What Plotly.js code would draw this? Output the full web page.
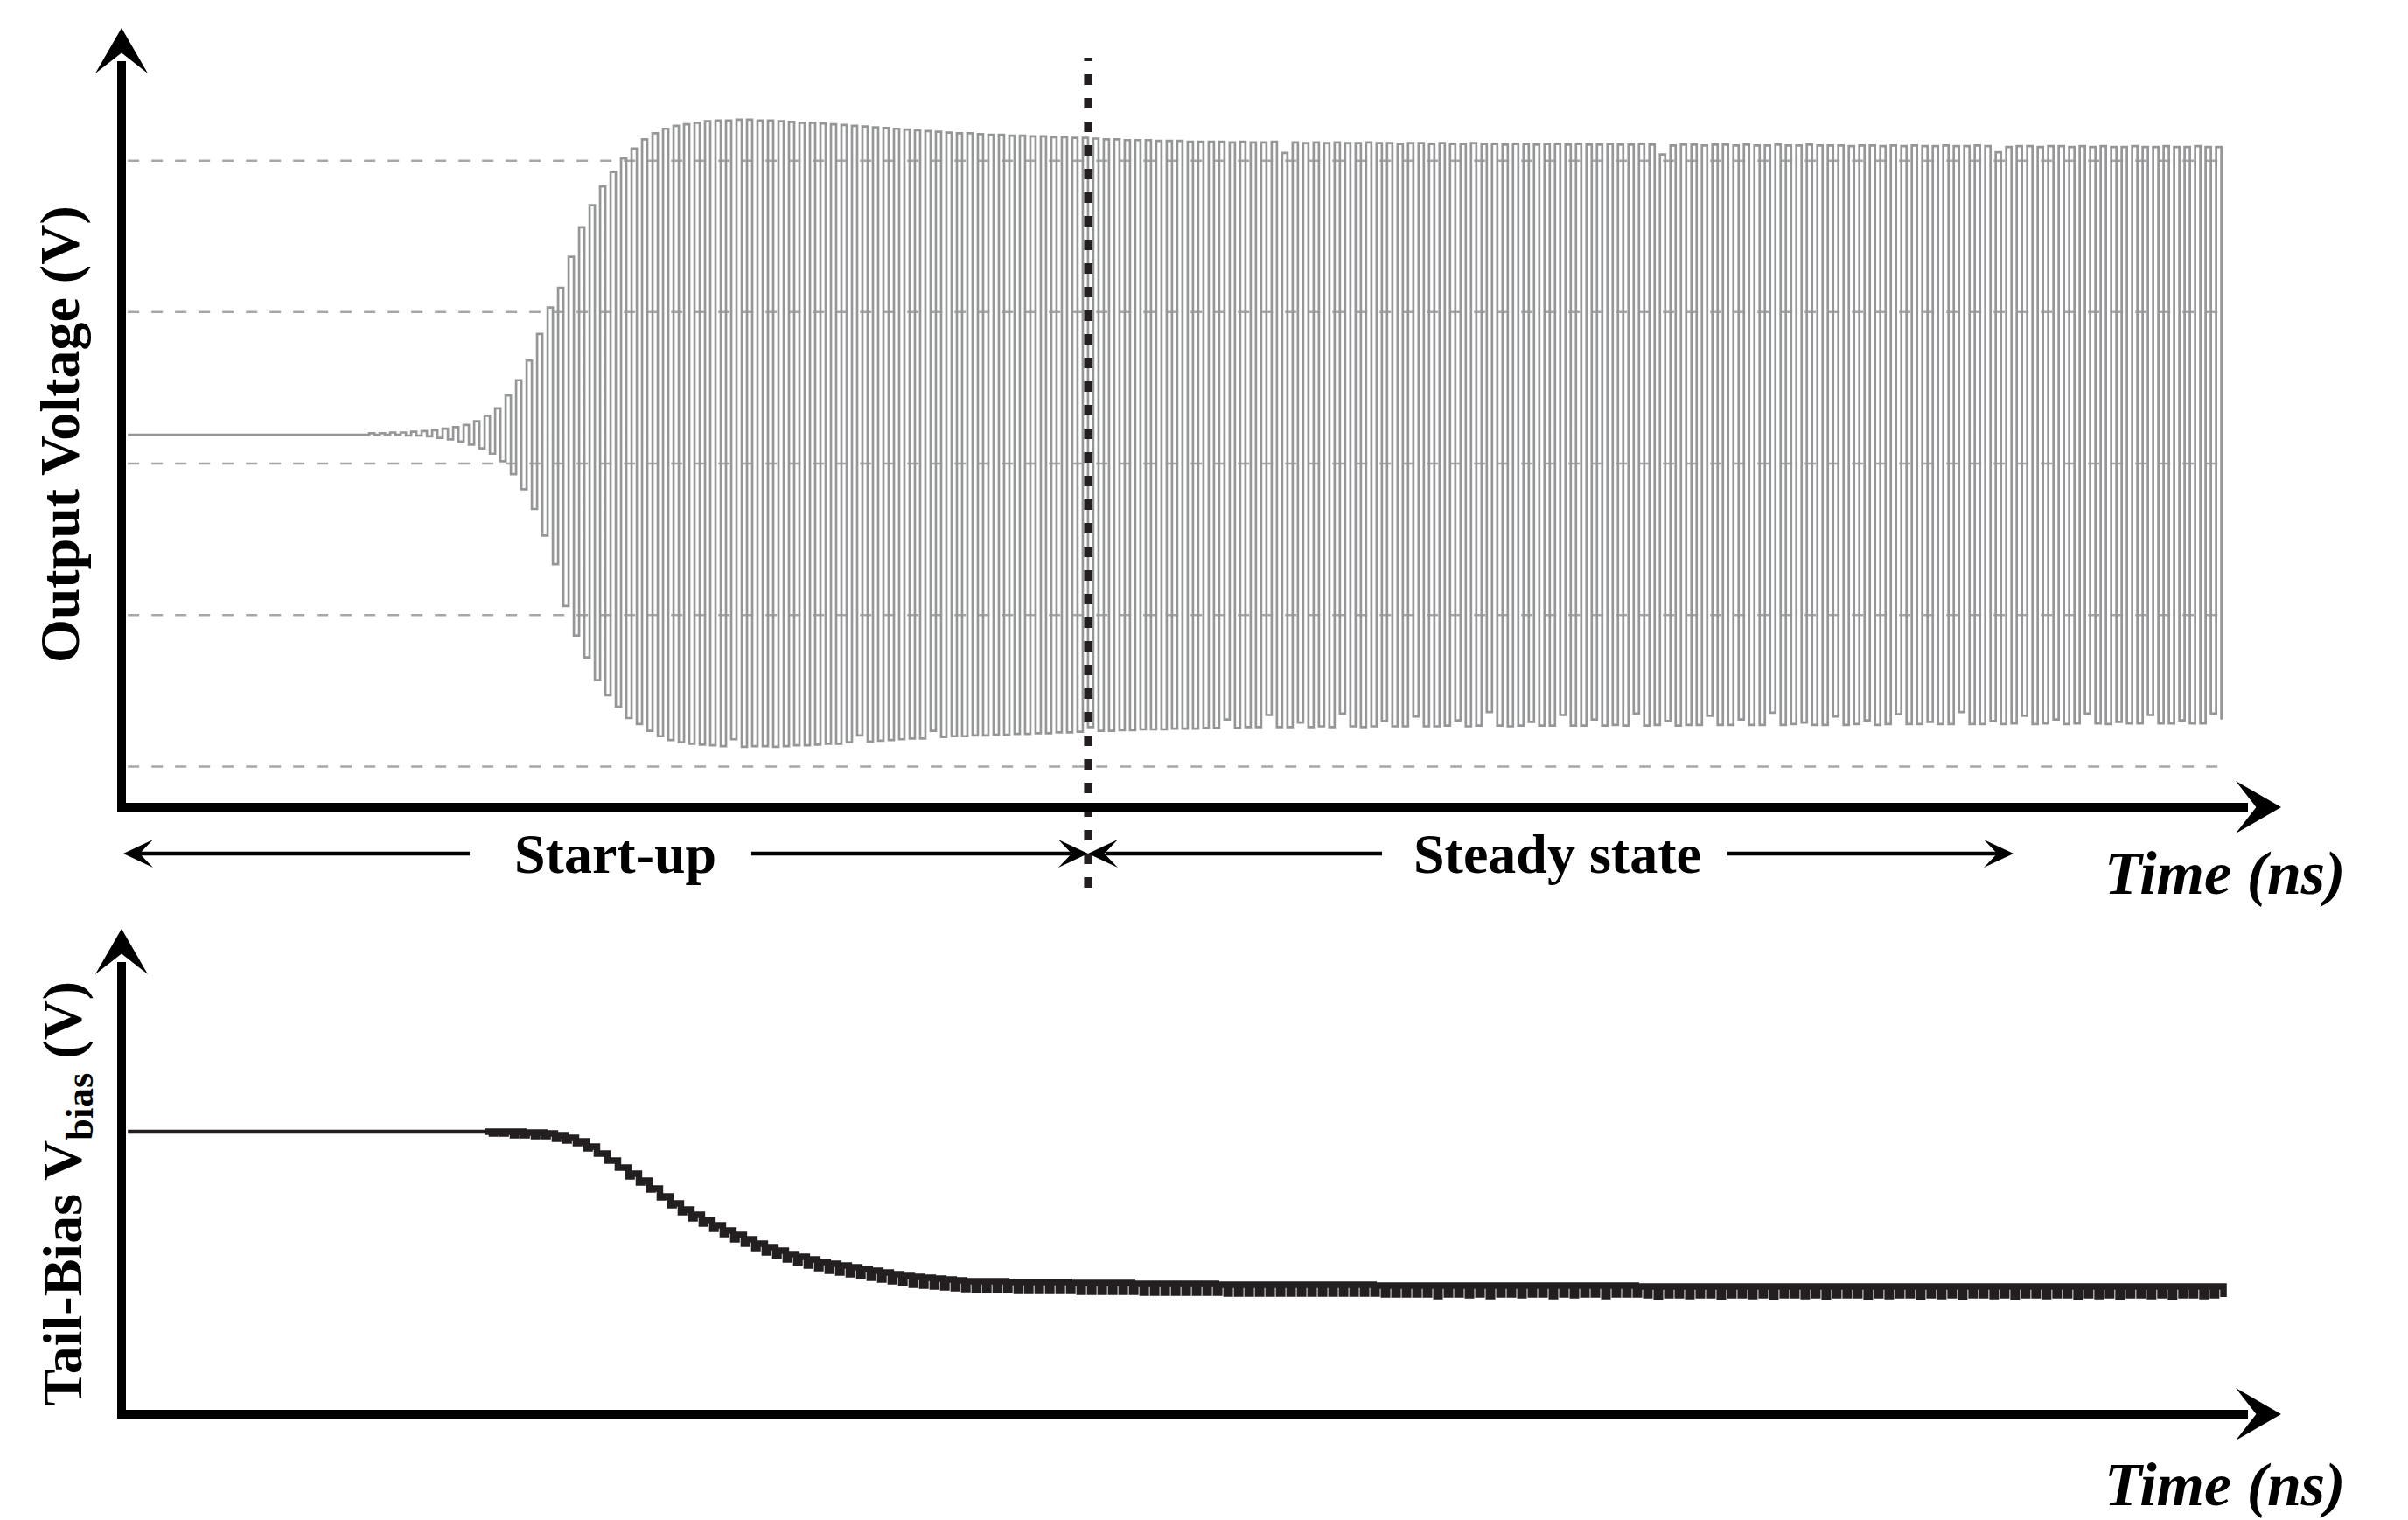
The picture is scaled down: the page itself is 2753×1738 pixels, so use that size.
<!DOCTYPE html>
<html>
<head>
<meta charset="utf-8">
<script src="https://cdn.plot.ly/plotly-3.0.1.min.js"></script>
<style>
html,body{margin:0;padding:0;background:#fff;}
#chart{width:2753px;height:1738px;}
</style>
</head>
<body>
<div id="chart"></div>
<script>
// ---------------- data ----------------
// time grid (ns)
const flatStart = 0.0;
const onsetTime = 11.5;
const cyclePeriod = 0.5;
const boundaryTime = 45.75;          // start-up / steady-state boundary

// resting levels before oscillation starts
const outRest = 0.838;
const biasRest = 0.600;

// output voltage: upper and lower swing of every cycle (V)
const outHigh = [
0.840,0.840,0.841,0.841,0.842,0.843,0.844,0.846,0.848,0.851,
0.856,0.863,0.873,0.890,0.910,0.936,0.971,1.006,1.032,1.073,
1.112,1.141,1.166,1.185,1.203,1.216,1.228,1.236,1.242,1.246,
1.248,1.250,1.252,1.253,1.253,1.254,1.254,1.253,1.253,1.252,
1.251,1.250,1.250,1.249,1.248,1.247,1.246,1.245,1.244,1.243,
1.242,1.241,1.240,1.239,1.238,1.237,1.236,1.236,1.235,1.234,
1.234,1.233,1.233,1.232,1.232,1.231,1.231,1.230,1.230,1.229,
1.228,1.228,1.227,1.227,1.227,1.226,1.226,1.226,1.225,1.225,
1.225,1.225,1.224,1.225,1.224,1.224,1.225,1.210,1.224,1.223,
1.224,1.223,1.224,1.223,1.223,1.224,1.223,1.223,1.222,1.223,
1.223,1.222,1.223,1.222,1.222,1.223,1.222,1.222,1.221,1.222,
1.222,1.221,1.222,1.222,1.221,1.222,1.221,1.221,1.222,1.221,
1.221,1.222,1.221,1.208,1.220,1.221,1.221,1.220,1.221,1.221,
1.220,1.221,1.220,1.220,1.221,1.220,1.220,1.221,1.220,1.220,
1.220,1.219,1.220,1.220,1.219,1.220,1.219,1.220,1.219,1.219,
1.220,1.219,1.219,1.220,1.219,1.211,1.218,1.219,1.219,1.218,
1.219,1.219,1.218,1.219,1.218,1.219,1.218,1.218,1.219,1.218,
1.218,1.219,1.218,1.218,1.219,1.218,1.218
];
const outLow = [
0.838,0.838,0.838,0.837,0.837,0.836,0.834,0.832,0.829,0.825,
0.820,0.813,0.803,0.786,0.766,0.740,0.705,0.667,0.612,0.573,
0.544,0.514,0.494,0.479,0.464,0.456,0.447,0.440,0.435,0.432,
0.430,0.429,0.428,0.427,0.436,0.426,0.427,0.427,0.426,0.427,
0.428,0.428,0.429,0.430,0.430,0.432,0.441,0.433,0.434,0.435,
0.436,0.437,0.437,0.447,0.439,0.440,0.440,0.441,0.441,0.442,
0.442,0.443,0.443,0.444,0.444,0.445,0.445,0.446,0.452,0.447,
0.447,0.448,0.448,0.449,0.449,0.449,0.450,0.450,0.450,0.451,
0.451,0.462,0.451,0.452,0.452,0.468,0.452,0.452,0.458,0.452,
0.453,0.452,0.470,0.453,0.452,0.453,0.460,0.453,0.453,0.466,
0.453,0.453,0.454,0.461,0.453,0.454,0.472,0.454,0.453,0.454,
0.459,0.454,0.454,0.468,0.454,0.454,0.462,0.454,0.455,0.454,
0.470,0.454,0.455,0.460,0.454,0.455,0.455,0.467,0.455,0.455,
0.462,0.455,0.455,0.471,0.455,0.456,0.458,0.455,0.455,0.466,
0.455,0.456,0.461,0.455,0.456,0.469,0.456,0.456,0.459,0.456,
0.456,0.472,0.456,0.456,0.460,0.456,0.457,0.467,0.456,0.457,
0.462,0.456,0.457,0.470,0.457,0.456,0.459,0.457,0.457,0.468,
0.457,0.457,0.461,0.457,0.457,0.470,0.462
];

// tail-bias voltage: upper and lower ripple level of every cycle (V)
const biasHigh = [
0.600,0.600,0.600,0.600,0.600,0.600,0.600,0.600,0.600,0.600,
0.600,0.600,0.600,0.600,0.600,0.599,0.599,0.598,0.596,0.593,
0.589,0.583,0.575,0.567,0.559,0.552,0.544,0.535,0.526,0.518,
0.511,0.505,0.499,0.493,0.487,0.482,0.477,0.472,0.468,0.464,
0.460,0.457,0.454,0.451,0.449,0.447,0.445,0.443,0.441,0.439,
0.437,0.435,0.434,0.433,0.432,0.431,0.430,0.429,0.429,0.429,
0.429,0.428,0.428,0.428,0.428,0.428,0.428,0.427,0.427,0.427,
0.427,0.427,0.427,0.426,0.426,0.426,0.426,0.426,0.426,0.426,
0.426,0.425,0.425,0.425,0.425,0.425,0.425,0.425,0.425,0.425,
0.425,0.425,0.425,0.425,0.425,0.425,0.424,0.424,0.424,0.424,
0.424,0.424,0.424,0.424,0.424,0.424,0.424,0.424,0.424,0.424,
0.424,0.424,0.424,0.424,0.424,0.424,0.424,0.424,0.424,0.424,
0.424,0.423,0.423,0.423,0.423,0.423,0.423,0.423,0.423,0.423,
0.423,0.423,0.423,0.423,0.423,0.423,0.423,0.423,0.423,0.423,
0.423,0.423,0.423,0.423,0.423,0.423,0.423,0.423,0.423,0.423,
0.423,0.423,0.423,0.423,0.423,0.423,0.423,0.423,0.423,0.423,
0.423,0.423,0.423,0.423,0.423,0.423,0.423,0.423,0.423,0.423,
0.423,0.423,0.423,0.423,0.423,0.423,0.423
];
const biasLow = [
0.600,0.600,0.600,0.600,0.600,0.600,0.600,0.600,0.600,0.600,
0.600,0.598,0.598,0.596,0.596,0.595,0.595,0.592,0.590,0.587,
0.581,0.575,0.567,0.559,0.549,0.542,0.534,0.525,0.516,0.508,
0.501,0.495,0.489,0.483,0.477,0.472,0.467,0.462,0.458,0.454,
0.450,0.447,0.444,0.441,0.439,0.437,0.435,0.433,0.431,0.429,
0.427,0.425,0.424,0.423,0.422,0.421,0.420,0.419,0.419,0.419,
0.419,0.418,0.418,0.418,0.418,0.418,0.418,0.417,0.417,0.417,
0.417,0.417,0.417,0.416,0.416,0.416,0.416,0.416,0.416,0.416,
0.416,0.415,0.415,0.415,0.415,0.415,0.415,0.415,0.415,0.415,
0.415,0.415,0.415,0.415,0.415,0.415,0.414,0.414,0.414,0.414,
0.414,0.412,0.414,0.414,0.413,0.414,0.412,0.414,0.414,0.413,
0.414,0.414,0.412,0.414,0.413,0.414,0.414,0.412,0.414,0.414,
0.414,0.413,0.411,0.413,0.413,0.412,0.413,0.413,0.411,0.413,
0.413,0.412,0.413,0.411,0.413,0.413,0.412,0.413,0.411,0.413,
0.413,0.413,0.411,0.413,0.412,0.413,0.413,0.411,0.413,0.412,
0.413,0.411,0.413,0.413,0.412,0.413,0.411,0.413,0.413,0.412,
0.413,0.413,0.411,0.413,0.412,0.413,0.411,0.413,0.413,0.412,
0.413,0.411,0.413,0.413,0.412,0.413,0.411
];

// dashed reference levels of the output plot (V)
const gridLevels = [0.4, 0.6, 0.8, 1.0, 1.2];

// texts
const yTitleTop = 'Output Voltage (V)';
const yTitleBottom = 'Tail-Bias V<sub>bias</sub> (V)';
const xTitle = 'Time (ns)';
const phaseLabels = ['Start-up', 'Steady state'];

// ---------------- geometry helpers ----------------
const W = 2753, H = 1738;
const px = v => v / W;
const py = v => 1 - v / H;
const xDomainPx = [139, 2608];
const xRange = [-0.3, 102.6];
const tToPx = t => xDomainPx[0] + (t - xRange[0]) / (xRange[1] - xRange[0]) * (xDomainPx[1] - xDomainPx[0]);

// ---------------- build traces ----------------
const nOut = Math.min(outHigh.length, outLow.length);
const xo = [flatStart], yo = [outRest];
for (let k = 0; k < nOut; k++) {
  const t = onsetTime + k * cyclePeriod;
  xo.push(t, t + cyclePeriod / 2);
  yo.push(outHigh[k], outLow[k]);
}

// bias: thin quiet part, then the thicker rippling part
const nB = Math.min(biasHigh.length, biasLow.length);
let k0 = 0;
while (k0 < nB && biasHigh[k0] === biasLow[k0]) k0++;
const xbq = [flatStart], ybq = [biasRest];
for (let k = 0; k < k0; k++) {
  const t = onsetTime + k * cyclePeriod;
  xbq.push(t, t + cyclePeriod * 0.7);
  ybq.push(biasHigh[k], biasLow[k]);
}
xbq.push(onsetTime + k0 * cyclePeriod); ybq.push(biasHigh[k0]);
const xb = [], yb = [];
for (let k = k0; k < nB; k++) {
  const t = onsetTime + k * cyclePeriod;
  xb.push(t, t + cyclePeriod * 0.7);
  yb.push(biasHigh[k], biasLow[k]);
}

const traces = [
  {type:'scatter', mode:'lines', x:xo, y:yo, xaxis:'x', yaxis:'y',
   line:{shape:'hv', color:'#959698', width:2.7}, hoverinfo:'skip'},
  {type:'scatter', mode:'lines', x:xbq, y:ybq, xaxis:'x2', yaxis:'y2',
   line:{shape:'hv', color:'#231f20', width:4.5}, hoverinfo:'skip'},
  {type:'scatter', mode:'lines', x:xb, y:yb, xaxis:'x2', yaxis:'y2',
   line:{shape:'hv', color:'#231f20', width:7.5}, hoverinfo:'skip'}
];

const serif = 'Liberation Serif, Times New Roman, serif';
const hiddenAxis = {showline:false, showgrid:false, zeroline:false, showticklabels:false, ticks:'', fixedrange:true};

// ---------------- shapes: grid, boundary, axis arrows ----------------
const shapes = gridLevels.map(g => ({
  type:'line', xref:'x', yref:'y', x0:0, x1:100, y0:g, y1:g, layer:'below',
  line:{color:'#a7a7a7', width:2.5, dash:'13px,14px'}
}));
shapes.push({
  type:'line', xref:'x', yref:'paper', x0:boundaryTime, x1:boundaryTime,
  y0:py(1015), y1:py(66), line:{color:'#231f20', width:9, dash:'12px,15px'}
});

function segment(x0, y0, x1, y1, w) {
  return {type:'line', xref:'paper', yref:'paper', x0:px(x0), y0:py(y0), x1:px(x1), y1:py(y1),
          line:{color:'#000', width:w}};
}
// barbed arrow head with its tip at (tx,ty), pointing along (dx,dy)
function head(tx, ty, dx, dy, len, wid) {
  const qx = -dy, qy = dx;
  const pts = [
    [tx, ty],
    [tx - len * dx + wid / 2 * qx, ty - len * dy + wid / 2 * qy],
    [tx - 0.55 * len * dx, ty - 0.55 * len * dy],
    [tx - len * dx - wid / 2 * qx, ty - len * dy - wid / 2 * qy]
  ];
  const d = pts.map((p, i) => (i ? 'L' : 'M') + px(p[0]).toFixed(5) + ',' + py(p[1]).toFixed(5)).join(' ') + ' Z';
  return {type:'path', xref:'paper', yref:'paper', path:d, fillcolor:'#000', line:{width:0}};
}

const bPx = tToPx(boundaryTime);
// top panel axes
shapes.push(segment(139, 928, 139, 70, 10), head(139, 32, 0, -1, 52, 60));
shapes.push(segment(134, 923, 2570, 923, 10), head(2608, 923, 1, 0, 52, 60));
// bottom panel axes
shapes.push(segment(139, 1622, 139, 1100, 10), head(139, 1062, 0, -1, 52, 60));
shapes.push(segment(134, 1617, 2570, 1617, 10), head(2608, 1617, 1, 0, 52, 60));
// phase arrows
shapes.push(segment(537, 976, 160, 976, 4.5), head(141, 976, -1, 0, 34, 32));
shapes.push(segment(859, 976, bPx - 20, 976, 4.5), head(bPx, 976, 1, 0, 34, 32));
shapes.push(segment(1580, 976, bPx + 20, 976, 4.5), head(bPx, 976, -1, 0, 34, 32));
shapes.push(segment(1975, 976, 2284, 976, 4.5), head(2302, 976, 1, 0, 34, 32));

// ---------------- texts ----------------
function label(text, x, y, size, opts) {
  return Object.assign({text:text, x:x, y:y, xref:'paper', yref:'paper', showarrow:false,
          xanchor:'center', yanchor:'middle',
          font:{family:serif, size:size, color:'#000', weight:700}}, opts || {});
}
const italicFont = {family:serif, size:70, color:'#000', weight:700, style:'italic'};
const annotations = [
  label(phaseLabels[0], px(703), py(977), 64),
  label(phaseLabels[1], px(1781), py(977), 64),
  label(xTitle, px(2683), py(998), 70, {xanchor:'right', font:italicFont}),
  label(xTitle, px(2683), py(1697), 70, {xanchor:'right', font:italicFont}),
  label(yTitleTop, px(68), py(497), 64, {textangle:-90}),
  label(yTitleBottom, px(76), py(1365), 64, {textangle:-90})
];

const layout = {
  width:W, height:H, margin:{l:0, r:0, t:0, b:0},
  paper_bgcolor:'#ffffff', plot_bgcolor:'rgba(0,0,0,0)', showlegend:false,
  xaxis: Object.assign({domain:[px(xDomainPx[0]), px(xDomainPx[1])], range:xRange, anchor:'y'}, hiddenAxis),
  yaxis: Object.assign({domain:[py(923), py(32)], range:[0.3462, 1.3751], anchor:'x'}, hiddenAxis),
  xaxis2: Object.assign({domain:[px(xDomainPx[0]), px(xDomainPx[1])], range:xRange, anchor:'y2'}, hiddenAxis),
  yaxis2: Object.assign({domain:[py(1617), py(1062)], range:[0.277, 0.832], anchor:'x2'}, hiddenAxis),
  shapes:shapes,
  annotations:annotations
};

Plotly.newPlot('chart', traces, layout, {displayModeBar:false, staticPlot:true}).then(function () {
  // drop Plotly's off-screen text-measuring helper once drawing is done
  const tester = document.getElementById('js-plotly-tester');
  if (tester) tester.remove();
});
</script>
</body>
</html>
